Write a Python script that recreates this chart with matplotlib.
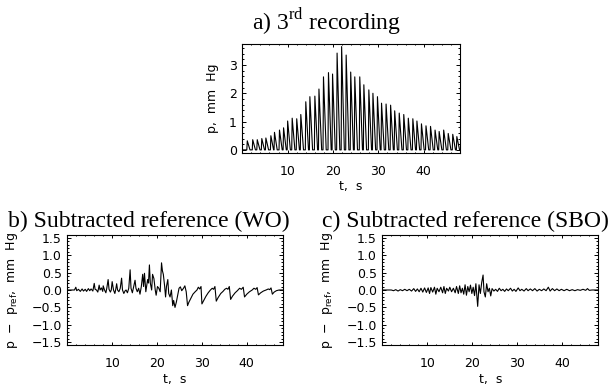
import matplotlib.pyplot as plt
from matplotlib.ticker import MultipleLocator

plt.rcParams["font.family"] = ["DejaVu Sans"]
plt.rcParams["mathtext.fontset"] = "custom"
plt.rcParams["mathtext.rm"] = "Liberation Serif"
plt.rcParams["mathtext.sf"] = "DejaVu Sans"

# a) 3rd recording: pulse onsets/peaks (s) and peak pressure (mm Hg)
peak_t = [1.1, 2.3, 3.3, 4.3, 5.2, 6.3, 7.1, 8.2, 9.1, 10.0, 11.0, 12.0,
          12.9, 14.0, 14.9, 16.0, 16.9, 17.9, 19.0, 19.9, 20.9, 21.9, 22.9, 23.9,
          24.8, 25.9, 26.8, 27.9, 28.8, 29.8, 30.7, 31.7, 32.7, 33.6, 34.6, 35.6,
          36.6, 37.6, 38.5, 39.5, 40.5, 41.5, 42.5, 43.4, 44.4, 45.4, 46.4, 47.3]
peak_p = [0.32, 0.36, 0.36, 0.40, 0.42, 0.50, 0.62, 0.70, 0.78, 1.02, 1.12, 1.10,
          1.25, 1.70, 1.88, 1.90, 2.15, 2.58, 2.73, 2.68, 3.42, 3.65, 3.35, 2.75,
          2.58, 2.58, 2.30, 2.12, 2.00, 1.88, 1.65, 1.62, 1.58, 1.38, 1.30, 1.25,
          1.12, 1.10, 1.02, 0.92, 0.85, 0.83, 0.70, 0.65, 0.70, 0.58, 0.55, 0.47]

# b) subtracted reference (WO)
wo_t = [0.0, 1.6, 1.9, 2.1, 2.5, 2.9, 3.3, 3.6, 4.0, 4.3, 4.7, 5.0, 5.3, 5.7,
        6.0, 6.2, 6.5, 6.8, 7.1, 7.3, 7.6, 7.9, 8.0, 8.3, 8.6, 8.8, 9.1, 9.3,
        9.6, 9.8, 10.0, 10.3, 10.6, 10.8, 11.0, 11.2, 11.5, 11.8, 12.1, 12.3,
        12.6, 12.9, 13.1, 13.4, 13.7, 14.0, 14.2, 14.5, 14.8, 15.1, 15.3, 15.6,
        15.9, 16.2, 16.5, 16.8, 17.0, 17.2, 17.5, 17.9, 18.1, 18.3, 18.5, 18.8,
        19.0, 19.3, 19.6, 19.8, 20.1, 20.4, 20.7, 21.0, 21.2, 21.4, 21.7, 21.9,
        22.1, 22.4, 22.6, 22.9, 23.2, 23.5, 23.7, 24.0, 24.3, 24.6, 24.9, 25.2,
        25.5, 25.9, 26.2, 26.5, 26.8, 27.1, 27.5, 28.0, 28.5, 28.9, 29.2, 29.5,
        29.8, 30.0, 30.4, 30.9, 31.4, 31.9, 32.3, 32.6, 32.9, 33.2, 33.6, 34.2,
        34.7, 35.1, 35.5, 35.8, 36.1, 36.4, 36.8, 37.4, 37.9, 38.4, 38.8, 39.2,
        39.5, 40.0, 40.6, 41.2, 41.6, 42.0, 42.3, 42.6, 43.1, 43.7, 44.3, 44.8,
        45.1, 45.4, 45.7, 46.1, 46.6, 47.2, 48.0]
wo_p = [0.0, 0.0, 0.08, -0.02, 0.02, -0.04, 0.03, -0.03, 0.02, -0.04, 0.04, -0.02, 0.03, -0.03,
        0.19, 0.02, 0.0, -0.06, 0.14, 0.0, 0.06, -0.04, 0.12, 0.0, -0.08, 0.05, 0.30, 0.02,
        -0.06, 0.0, 0.24, 0.0, -0.10, 0.02, 0.18, 0.0, -0.05, 0.05, 0.34, 0.0,
        -0.10, -0.02, 0.0, -0.08, 0.05, 0.58, 0.05, -0.08, 0.10, 0.28, 0.05, -0.05,
        0.05, -0.12, 0.10, 0.45, 0.10, 0.48, -0.05, 0.30, 0.20, 0.72, 0.20, 0.0,
        0.45, 0.33, 0.0, -0.15, 0.10, 0.05, -0.05, 0.78, 0.55, 0.45, 0.10, -0.20,
        0.10, 0.30, -0.10, -0.20, 0.0, -0.45, -0.30, -0.50, -0.35, -0.15, 0.05, 0.09,
        -0.02, 0.05, 0.12, -0.05, -0.45, -0.35, -0.25, -0.12, -0.05, 0.0, 0.08, 0.03,
        0.10, -0.40, -0.30, -0.18, -0.08, 0.0, 0.05, 0.02, 0.10, -0.32, -0.22, -0.10,
        -0.04, 0.02, 0.05, 0.02, 0.10, -0.27, -0.18, -0.08, -0.02, 0.05, 0.02, 0.08,
        -0.20, -0.12, -0.05, 0.0, 0.05, 0.02, 0.07, -0.14, -0.08, -0.03, 0.0, 0.03,
        0.01, 0.06, -0.12, -0.06, -0.02, 0.0, 0.0]

# c) subtracted reference (SBO)
sbo_t = [0.0, 2.0, 2.5, 3.0, 3.5, 4.0, 4.5, 5.0, 5.5, 6.0, 6.5, 7.0, 7.4, 7.8,
         8.2, 8.6, 9.0, 9.4, 9.8, 10.2, 10.5, 10.8, 11.2, 11.6, 11.9, 12.2, 12.6,
         13.0, 13.4, 13.7, 14.0, 14.3, 14.7, 15.0, 15.4, 15.8, 16.2, 16.5, 16.9,
         17.2, 17.5, 17.8, 18.1, 18.4, 18.7, 19.0, 19.3, 19.6, 19.9, 20.2, 20.5,
         20.8, 21.2, 21.5, 21.8, 22.1, 22.4, 22.6, 22.9, 23.2, 23.5, 23.8, 24.1,
         24.4, 24.8, 25.2, 25.6, 26.0, 26.4, 26.8, 27.2, 27.6, 28.0, 28.5, 28.9,
         29.3, 29.7, 30.2, 30.6, 31.0, 31.5, 32.0, 32.4, 32.9, 33.4, 33.9, 34.4,
         34.9, 35.4, 35.9, 36.4, 36.9, 37.3, 37.8, 38.3, 38.8, 39.3, 39.8, 40.4,
         41.0, 41.6, 42.2, 42.8, 43.4, 44.0, 44.6, 45.2, 45.6, 46.0, 46.6, 48.0]
sbo_p = [0.0, 0.0, -0.02, 0.01, -0.03, 0.01, -0.02, 0.02, -0.02, 0.02, -0.03, 0.04, -0.04, 0.03,
         -0.05, 0.05, -0.06, 0.06, -0.07, 0.06, -0.10, 0.07, -0.06, 0.08, -0.12, 0.05, -0.05,
         0.08, -0.08, 0.10, -0.10, 0.05, -0.03, 0.08, -0.05, 0.05, -0.08, 0.10, -0.10,
         0.12, -0.08, 0.05, -0.12, 0.15, -0.15, 0.10, -0.05, 0.14, -0.10, 0.08, -0.16,
         0.18, -0.47, 0.15, -0.10, 0.22, 0.43, -0.05, -0.20, 0.18, -0.05, 0.05, -0.17,
         0.04, -0.03, 0.02, -0.04, 0.05, -0.02, 0.02, -0.04, 0.03, -0.02, 0.05, -0.03,
         0.02, -0.04, 0.06, -0.02, 0.02, -0.03, 0.04, -0.02, 0.03, -0.02, 0.04, -0.03,
         0.02, -0.02, 0.03, -0.02, 0.08, -0.03, 0.04, -0.02, 0.03, -0.02, 0.02, -0.02,
         0.02, -0.02, 0.01, -0.02, 0.01, -0.01, 0.02, -0.01, 0.04, -0.01, 0.0, 0.0]


def style_axes(ax, ymajor, yminor):
    ax.set_xlim(0, 48)
    ax.xaxis.set_major_locator(MultipleLocator(10))
    ax.xaxis.set_minor_locator(MultipleLocator(2))
    ax.yaxis.set_major_locator(MultipleLocator(ymajor))
    ax.yaxis.set_minor_locator(MultipleLocator(yminor))
    ax.tick_params(which="both", direction="in", top=True, right=True, width=0.7,
                   labelsize=9)
    ax.tick_params(axis="x", which="major", length=2.0, pad=8.5)
    ax.tick_params(axis="x", which="minor", length=1.0)
    ax.tick_params(axis="y", which="major", length=3.0, pad=4)
    ax.tick_params(axis="y", which="minor", length=1.5)
    for s in ax.spines.values():
        s.set_linewidth(0.8)
    ax.set_xticks([10, 20, 30, 40])
    ax.set_xlabel("t,  s", fontsize=9, labelpad=2)


fig = plt.figure(figsize=(6.14, 3.87), dpi=100)

# panel a
ax_a = fig.add_axes([0.3946, 0.6054, 0.3546, 0.2801])
ta, pa = [0.0], [0.0]
for t, p in zip(peak_t, peak_p):
    ta += [t - 0.1, t, t + 0.6]
    pa += [0.0, p, 0.0]
ta.append(48.0)
pa.append(0.0)
ax_a.plot(ta, pa, color="black", lw=0.8)
style_axes(ax_a, 1, 0.2)
ax_a.set_ylim(-0.1, 3.73)
ax_a.set_ylabel("p,  mm  Hg", fontsize=9)
ax_a.yaxis.set_label_coords(-0.105, 0.5)

# panel b
ax_b = fig.add_axes([0.1096, 0.1085, 0.3508, 0.2843])
ax_b.plot(wo_t, wo_p, color="black", lw=0.8)
style_axes(ax_b, 0.5, 0.1)
ax_b.set_ylim(-1.58, 1.58)
ax_b.set_ylabel("p  \u2212  p$_{\\mathsf{ref}}$,  mm  Hg", fontsize=9)

# panel c
ax_c = fig.add_axes([0.6226, 0.1085, 0.3518, 0.2843])
ax_c.plot(sbo_t, sbo_p, color="black", lw=0.8)
style_axes(ax_c, 0.5, 0.1)
ax_c.set_ylim(-1.58, 1.58)
ax_c.set_ylabel("p  \u2212  p$_{\\mathsf{ref}}$,  mm  Hg", fontsize=9)

for ax in (ax_b, ax_c):
    ax.set_yticks([-1.5, -1.0, -0.5, 0.0, 0.5, 1.0, 1.5])
    ax.set_yticklabels(["\u22121.5", "\u22121.0", "\u22120.5", "0.0", "0.5", "1.0", "1.5"])
    ax.yaxis.set_label_coords(-0.22, 0.5)

serif = "Liberation Serif"
fig.text(0.532, 0.9225, "a) 3$^{\\mathrm{rd}}$ recording", ha="center", va="baseline",
         fontsize=17, family=serif)
fig.text(0.242, 0.4142, "b) Subtracted reference (WO)", ha="center", va="baseline",
         fontsize=17, family=serif)
fig.text(0.7585, 0.4142, "c) Subtracted reference (SBO)", ha="center", va="baseline",
         fontsize=17, family=serif)

fig.savefig("out.png", dpi=100)
